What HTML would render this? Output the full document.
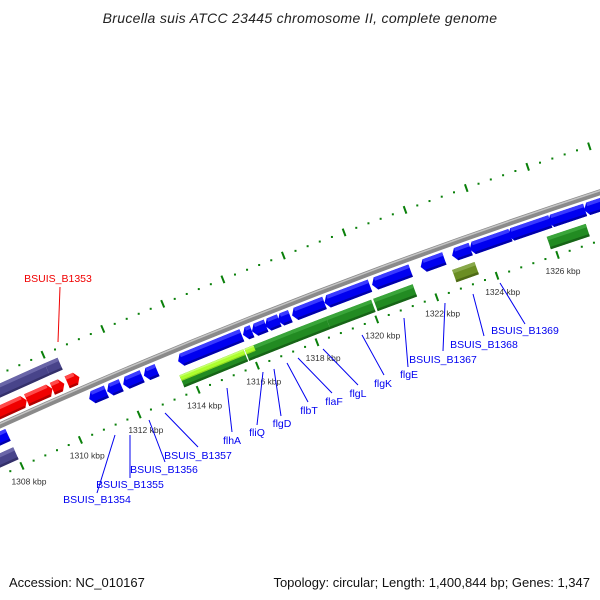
<!DOCTYPE html>
<html><head><meta charset="utf-8"><style>
html,body{margin:0;padding:0;background:#fff;}
svg{display:block;}
text{font-family:"Liberation Sans","DejaVu Sans",sans-serif;}
</style></head><body>
<svg id="map" width="600" height="600" viewBox="0 0 600 600" xmlns="http://www.w3.org/2000/svg">
<rect width="600" height="600" fill="#fff"/>
<text x="300" y="23" text-anchor="middle" font-style="italic" font-size="14" fill="#222" letter-spacing="0.3">Brucella suis ATCC 23445 chromosome II, complete genome</text>
<g id="ticks"></g>
<g id="backbone"></g>
<g id="genes"></g>
<g id="labels"></g>
<text x="9" y="587" font-size="13" fill="#111">Accession: NC_010167</text>
<text x="590" y="587" text-anchor="end" font-size="13" fill="#111">Topology: circular; Length: 1,400,844 bp; Genes: 1,347</text>
</svg>
<script>
// ---- data (kbp) ----
const tickLabels=[1308,1310,1312,1314,1316,1318,1320,1322,1324,1326];
const blueStart=[1306.8,1310.76,1311.37,1311.91,1312.61,1313.76,1315.94,1316.24,1316.68,1317.11,1317.58,1318.66,1320.24,1321.85,1322.89,1323.47,1324.74,1326.05,1327.23];
const blueEnd  =[1308.0,1311.34,1311.84,1312.55,1313.05,1315.90,1316.24,1316.71,1317.15,1317.52,1318.66,1320.17,1321.52,1322.63,1323.50,1324.81,1326.12,1327.26,1328.6];
const greenStart=[1313.63,1315.82,1316.09,1317.43,1318.54,1320.12,1325.86];
const greenEnd  =[1315.78,1316.12,1317.46,1318.54,1320.05,1321.43,1327.14];
const limeStart=[1313.63,1315.82];
const limeEnd  =[1315.78,1316.12];
const oliveStart=[1322.74];
const oliveEnd  =[1323.48];
const innerPurpleStart=[1306.8];
const innerPurpleEnd  =[1307.99];
const outerPurpleStart=[1306.5,1309.93];
const outerPurpleEnd  =[1309.93,1310.37];
const redStart=[1307.0,1308.97,1309.84,1310.34];
const redEnd  =[1308.97,1309.84,1310.24,1310.75];
const geneNames=["BSUIS_B1353","BSUIS_B1354","BSUIS_B1355","BSUIS_B1356","BSUIS_B1357","flhA","fliQ","flgD","flbT","flaF","flgL","flgK","flgE","BSUIS_B1367","BSUIS_B1368","BSUIS_B1369"];

// ---- geometry ----
const CX=2462, CY=5875, R_BB=5980, R_IN=5934, R_OUT=6027;
function ang(k){return (-24.28+(k-1308)*0.3089)*Math.PI/180;}
function pt(k,r){const a=ang(k);return [CX+r*Math.sin(a), CY-r*Math.cos(a)];}
const NS="http://www.w3.org/2000/svg";
function mk(tag,attrs,parent){const e=document.createElementNS(NS,tag);for(const k in attrs)e.setAttribute(k,attrs[k]);parent.appendChild(e);return e;}
const P=a=>a.map(p=>p[0].toFixed(1)+","+p[1].toFixed(1)).join(" ");

// ticks
const tg=document.getElementById('ticks');
for(let i=0;i<=60;i++){
  const k=1306+i*0.4;
  const major=Math.abs((k/2)-Math.round(k/2))<1e-6;
  [R_IN,R_OUT].forEach(r=>{
    let e;
    if(major){const a=pt(k,r-4),b=pt(k,r+4);
      e=mk('line',{x1:a[0],y1:a[1],x2:b[0],y2:b[1],stroke:'#0a800a','stroke-width':2},tg);
      
    } else {const c=pt(k,r);
      e=mk('rect',{x:c[0]-1,y:c[1]-1,width:2,height:2,fill:'#0a800a'},tg);
      
    }
    
  });
}
tickLabels.forEach(k=>{
  const c=pt(k,R_IN-17);
  const t=mk('text',{x:c[0],y:c[1]+3,'text-anchor':'middle','font-size':8.5,fill:'#333'},tg);
  t.textContent=k+" kbp";
  
  
});

// backbone
const bg=document.getElementById('backbone');
function arcPath(r,k0,k1){const a=pt(k0,r),b=pt(k1,r);return `M${a[0]},${a[1]} A${r},${r} 0 0 1 ${b[0]},${b[1]}`;}
let bb=mk('path',{d:arcPath(R_BB,1300,1335),stroke:'#8a8a8a','stroke-width':6,fill:'none'},bg);


let bh=mk('path',{d:arcPath(R_BB+1.5,1300,1335),stroke:'#c4c4c4','stroke-width':1.5,fill:'none'},bg);



// genes
const gg=document.getElementById('genes');
function feature(k0,k1,rc,h,dir,col,light,dark,name){
  const tip=0.13, r0=rc-h/2, r1=rc+h/2;
  let pts;
  if(dir<0){const kb=Math.min(k0+tip,k1);pts=[pt(kb,r1),pt(k1,r1),pt(k1,r0),pt(kb,r0),pt(k0,rc)];}
  else if(dir>0){const kb=Math.max(k1-tip,k0);pts=[pt(k0,r1),pt(kb,r1),pt(k1,rc),pt(kb,r0),pt(k0,r0)];}
  else pts=[pt(k0,r1),pt(k1,r1),pt(k1,r0),pt(k0,r0)];
  const g=mk('g',{},gg);
  
  
  mk('polygon',{points:P(pts),fill:col},g);
  // highlight band (outer edge)
  const ka=dir<0?Math.min(k0+tip,k1):k0, kb2=dir>0?Math.max(k1-tip,k0):k1;
  mk('polygon',{points:P([pt(ka,r1),pt(kb2,r1),pt(kb2,r1-h*0.28),pt(ka,r1-h*0.28)]),fill:light},g);
  mk('polygon',{points:P([pt(ka,r0+h*0.18),pt(kb2,r0+h*0.18),pt(kb2,r0),pt(ka,r0)]),fill:dark},g);
}
blueStart.forEach((s,i)=>feature(s,blueEnd[i],R_BB-12,13,-1,'#0000f0','#3a3aff','#0000a8','blue-gene'));
greenStart.forEach((s,i)=>feature(s,greenEnd[i],R_BB-32,13,0,'#228b22','#3aa53a','#176417','green-feature'));
limeStart.forEach((s,i)=>feature(s,limeEnd[i],R_BB-28.5,6,0,'#adff2f','#c8ff70','#8fd81f','lime-feature'));
oliveStart.forEach((s,i)=>feature(s,oliveEnd[i],R_BB-32,13,0,'#6b8e23','#88a84a','#4e6a16','olive-feature'));
innerPurpleStart.forEach((s,i)=>feature(s,innerPurpleEnd[i],R_BB-32,13,0,'#48448a','#6a66a8','#34306a','purple-feature'));
outerPurpleStart.forEach((s,i)=>feature(s,outerPurpleEnd[i],R_BB+32,13,0,'#48448a','#6a66a8','#34306a','purple-feature'));
redStart.forEach((s,i)=>feature(s,redEnd[i],R_BB+12,13,1,'#f00000','#ff4a4a','#b00000','red-gene'));

// leader labels: [text x, text y, line x1,y1,x2,y2, color]
const labelPos=[[58,282,60,287,58,342,'#f00000'],[97,503,97,493,115,435],[130,488,130,478,130,435],[164,473,165,462,149,420],[198,459,198,447,165,413],[232,444,232,432,227,388],[257,436,257,425,263,372],[282,427,281,416,274,369],[309,414,308,402,287,363],[334,405,332,393,298,358],[358,397,358,385,323,349],[383,387,384,375,362,335],[409,378,408,367,404,318],[443,363,443,351,445,303],[484,348,484,336,473,294],[525,334,525,324,500,283]];
const lg=document.getElementById('labels');
geneNames.forEach((n,i)=>{
  const p=labelPos[i], c=p[6]||'#0000f0';
  const l=mk('line',{x1:p[2],y1:p[3],x2:p[4],y2:p[5],stroke:c,'stroke-width':1},lg);
  
  
  const t=mk('text',{x:p[0],y:p[1],'text-anchor':'middle','font-size':10.5,fill:c},lg);
  t.textContent=n;
  
  
});
</script>
</body></html>
